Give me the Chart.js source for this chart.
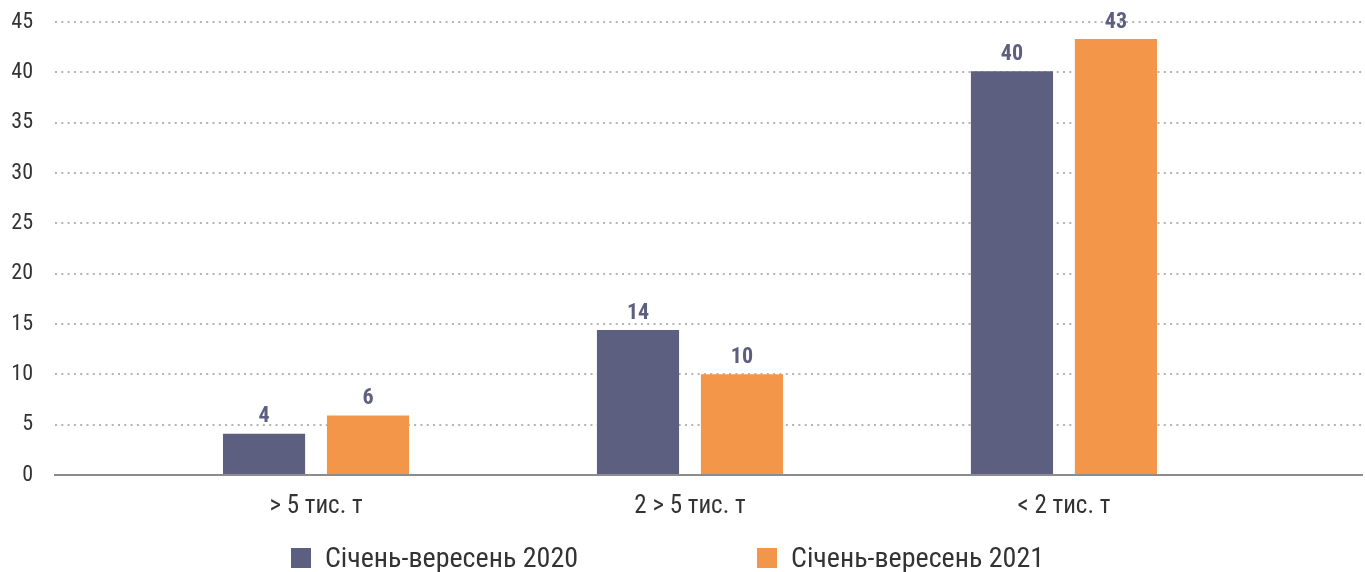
<!DOCTYPE html>
<html>
<head>
<meta charset="utf-8">
<script src="https://cdn.jsdelivr.net/npm/chart.js@4/dist/chart.umd.min.js"></script>
<style>
  body { margin: 0; background: #fff; }
  #wrap { position: relative; width: 1365px; height: 572px; }
  #legend { position: absolute; left: 291px; top: 545px; display: flex; gap: 179px;
            font-family: 'Liberation Sans Narrow', 'Roboto Condensed', Roboto, sans-serif;
            font-size: 28px; color: #333; line-height: 26px; }
  #legend .item { display: flex; align-items: center; white-space: nowrap; }
  #legend .box { width: 20px; height: 20px; margin-right: 14px; }
</style>
</head>
<body>
<div id="wrap">
  <canvas id="chart" width="1365" height="572"></canvas>
  <div id="legend"></div>
</div>
<script>
const categories = ['> 5 тис. т', '2 > 5 тис. т', '< 2 тис. т'];
const seriesNames = ['Січень-вересень 2020', 'Січень-вересень 2021'];
const values2020 = [4.1, 14.4, 40.1];
const values2021 = [5.9, 10.0, 43.3];
const yTicks = [0, 5, 10, 15, 20, 25, 30, 35, 40, 45];

const colors = ['#5c5f7f', '#f4964a'];
const fontFamily = "'Liberation Sans Narrow', 'Roboto Condensed', Roboto, sans-serif";

const valueLabels = {
    id: 'valueLabels',
    afterDatasetsDraw(chart) {
        const ctx = chart.ctx;
        ctx.save();
        ctx.font = 'bold 22px ' + fontFamily;
        ctx.fillStyle = '#5c5f7f';
        ctx.textAlign = 'center';
        ctx.textBaseline = 'bottom';
        chart.data.datasets.forEach((ds, i) => {
            chart.getDatasetMeta(i).data.forEach((bar, j) => {
                ctx.fillText(Math.round(ds.data[j].y), bar.x, bar.y - 6);
            });
        });
        ctx.restore();
    }
};

const toPoints = arr => arr.map((v, i) => ({ x: i, y: v }));

new Chart(document.getElementById('chart'), {
    type: 'bar',
    data: {
        datasets: [
            { label: seriesNames[0], data: toPoints(values2020), backgroundColor: colors[0] },
            { label: seriesNames[1], data: toPoints(values2021), backgroundColor: colors[1] }
        ]
    },
    options: {
        responsive: false,
        animation: false,
        layout: { padding: { top: 22, right: 3, left: 12, bottom: 33 } },
        datasets: { bar: { categoryPercentage: 0.556, barPercentage: 0.79 } },
        plugins: { legend: { display: false }, tooltip: { enabled: false } },
        scales: {
            x: {
                type: 'linear',
                offset: false,
                min: -0.698,
                max: 2.797,
                afterBuildTicks: axis => { axis.ticks = categories.map((c, i) => ({ value: i })); },
                afterFit: axis => { axis.paddingLeft = 0; axis.paddingRight = 0; },
                ticks: {
                    callback: v => categories[v],
                    font: { family: fontFamily, size: 25 },
                    color: '#333',
                    padding: 17,
                    maxRotation: 0
                },
                grid: { display: false, drawTicks: false, offset: false },
                border: { display: true, color: '#8c8c8c', width: 2 }
            },
            y: {
                min: 0,
                max: 45,
                afterBuildTicks: axis => { axis.ticks = yTicks.map(v => ({ value: v })); },
                afterFit: axis => { axis.width = 43; axis.paddingTop = 0; axis.paddingBottom = 0; },
                ticks: {
                    font: { family: fontFamily, size: 22 },
                    color: '#333',
                    padding: 22
                },
                grid: { color: '#b4b4b4', lineWidth: 2, drawTicks: false },
                border: { display: false, dash: [2, 4.3] }
            }
        }
    },
    plugins: [valueLabels]
});

document.getElementById('legend').innerHTML = seriesNames.map((name, i) =>
    `<div class="item"><div class="box" style="background:${colors[i]}"></div>${name}</div>`
).join('');
</script>
</body>
</html>
